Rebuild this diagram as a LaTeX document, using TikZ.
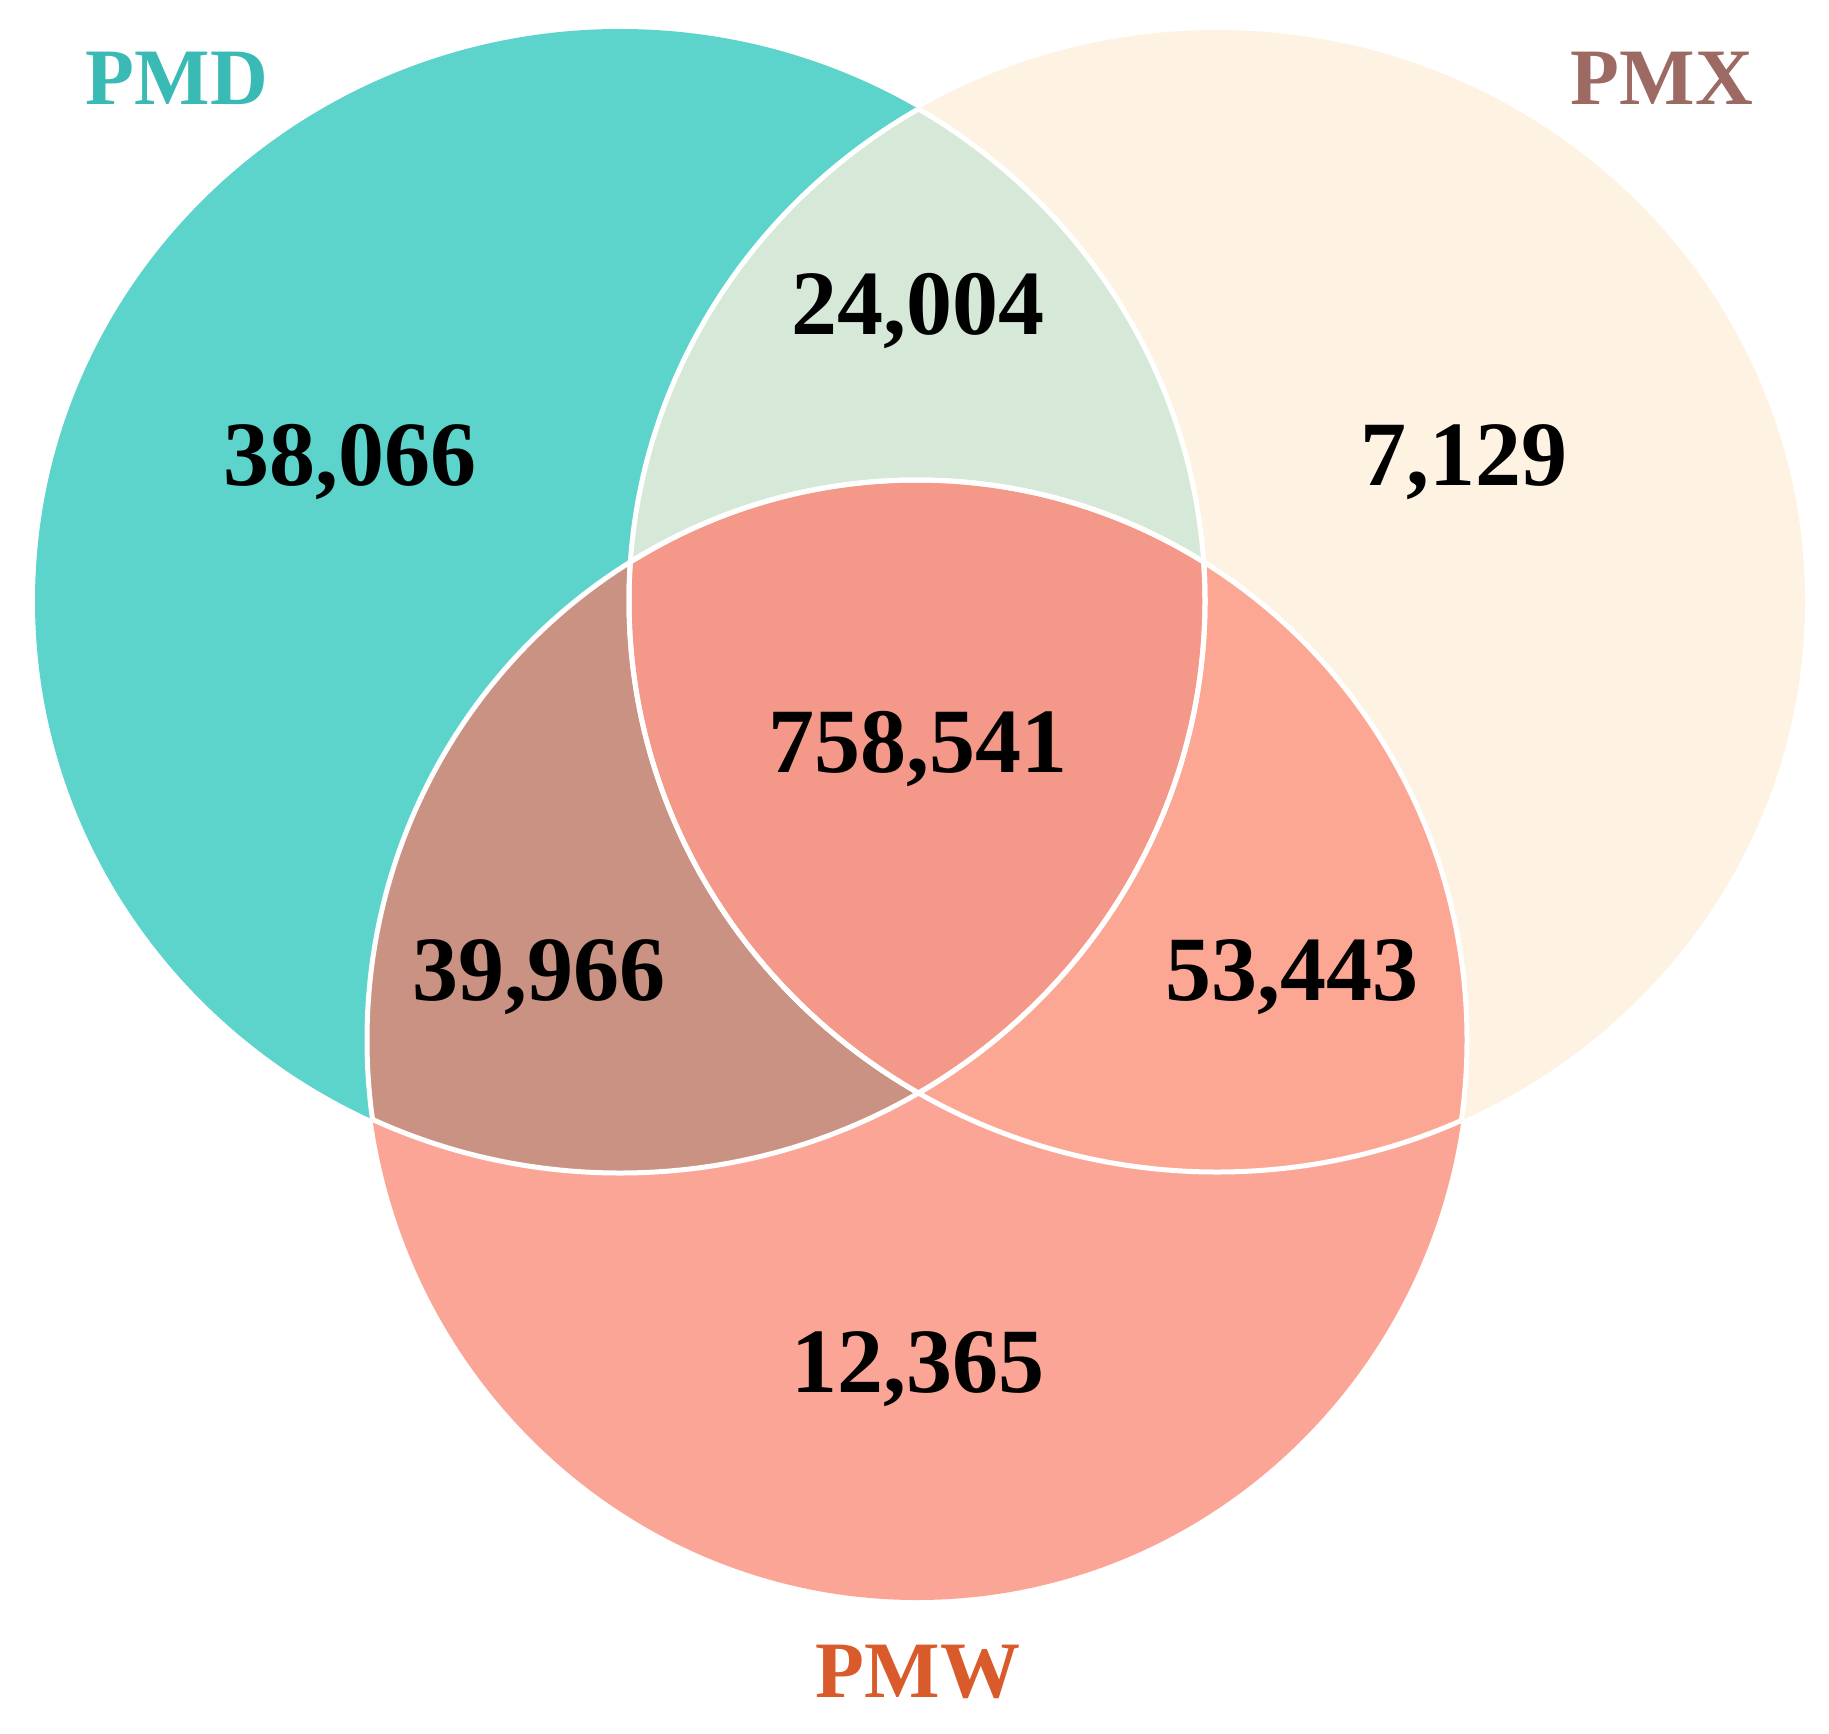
\documentclass[tikz,border=0pt]{standalone}
\usepackage{fontspec}
\setmainfont{Liberation Serif}
\definecolor{cpmd}{RGB}{92,211,203}
\definecolor{cpmx}{RGB}{254,243,226}
\definecolor{cpmw}{RGB}{251,165,151}
\definecolor{cdx}{RGB}{214,233,217}
\definecolor{cdw}{RGB}{201,146,131}
\definecolor{cxw}{RGB}{252,167,148}
\definecolor{cdxw}{RGB}{244,153,138}
\definecolor{lpmd}{RGB}{58,186,181}
\definecolor{lpmx}{RGB}{156,106,98}
\definecolor{lpmw}{RGB}{217,90,43}
\begin{document}
\begin{tikzpicture}[x=1pt,y=-1pt,
  num/.style={font=\fontsize{92}{96}\selectfont\bfseries, text=black, anchor=base, inner sep=0pt},
  setlabel/.style={font=\fontsize{80}{84}\selectfont\bfseries, anchor=base, inner sep=0pt},
  sep/.style={draw=white, line width=5pt}]
\useasboundingbox (0,0) rectangle (1829,1734);
\fill[white] (0,0) rectangle (1829,1734);
\coordinate (cD) at (620,601);
\coordinate (cX) at (1217,601);
\coordinate (cW) at (917,1040);
\def\shD{(cD) ellipse [x radius=585pt, y radius=572pt]}
\def\shX{(cX) ellipse [x radius=588pt, y radius=571pt]}
\def\shW{(cW) ellipse [x radius=550pt, y radius=560pt]}
% base sets
\fill[cpmd] \shD;
\fill[cpmx] \shX;
\fill[cpmw] \shW;
% pairwise
\begin{scope}\clip \shD; \fill[cdx] \shX; \end{scope}
\begin{scope}\clip \shD; \fill[cdw] \shW; \end{scope}
\begin{scope}\clip \shX; \fill[cxw] \shW; \end{scope}
\begin{scope}\clip \shD; \clip \shX; \fill[cdxw] \shW; \end{scope}
% separating lines
\begin{scope}\clip \shX; \draw[sep] \shD; \end{scope}
\begin{scope}\clip \shW; \draw[sep] \shD; \end{scope}
\begin{scope}\clip \shD; \draw[sep] \shX; \end{scope}
\begin{scope}\clip \shW; \draw[sep] \shX; \end{scope}
\begin{scope}\clip \shD; \draw[sep] \shW; \end{scope}
\begin{scope}\clip \shX; \draw[sep] \shW; \end{scope}
% counts
\node[num] (nD) at (350,485) {38,066};
\node[num] (nDX) at (918,334) {24,004};
\node[num] (nX) at (1464,485) {7,129};
\node[num] (nDXW) at (918,772) {758,541};
\node[num] (nDW) at (539,1000) {39,966};
\node[num] (nXW) at (1292,1000) {53,443};
\node[num] (nW) at (918,1392) {12,365};
% set labels
\node[setlabel, text=lpmd] (lD) at (177,105) {PMD};
\node[setlabel, text=lpmx] (lX) at (1662,105) {PMX};
\node[setlabel, text=lpmw] (lW) at (918,1697) {PMW};
\end{tikzpicture}
\end{document}
